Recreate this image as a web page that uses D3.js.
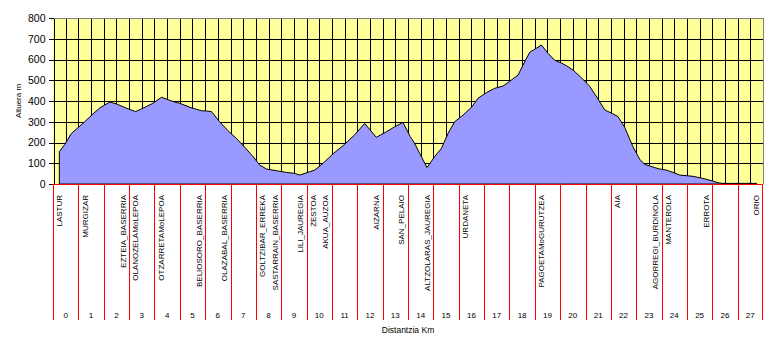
<!DOCTYPE html>
<html><head><meta charset="utf-8">
<script src="https://cdn.jsdelivr.net/npm/d3@7"></script>
<style>
html,body{margin:0;padding:0;background:#fff;}
svg{display:block;font-family:Arial,"Liberation Sans",sans-serif;}
</style></head>
<body><svg id="chart" width="773" height="348"></svg>
<script>
// ---- data ----
const profileKm = [0, 0.21, 0.48, 0.74, 1.0, 1.33, 1.59, 1.79, 1.99, 2.25, 2.65, 3.01, 3.43, 3.69, 4.03, 4.29, 4.55, 4.75, 5.14, 5.6, 5.8, 6.0, 6.32, 6.65, 6.98, 7.31, 7.64, 7.9, 8.17, 8.56, 8.95, 9.28, 9.48, 9.87, 10.07, 10.4, 10.79, 11.25, 11.64, 12.04, 12.5, 12.9, 13.23, 13.55, 13.84, 14.01, 14.21, 14.5, 14.8, 15.07, 15.33, 15.59, 15.92, 16.25, 16.51, 16.84, 17.17, 17.5, 17.76, 18.09, 18.35, 18.55, 18.81, 19.01, 19.27, 19.54, 19.8, 20.0, 20.26, 20.59, 20.92, 21.24, 21.51, 21.83, 22.03, 22.3, 22.62, 22.89, 23.08, 23.48, 23.68, 23.94, 24.2, 24.47, 24.99, 25.38, 25.78, 25.98, 26.17, 27.5];
const profileElev = [156, 190, 244, 272, 300, 338, 366, 381, 395, 386, 365, 349, 373, 389, 418, 406, 395, 389, 370, 353, 352, 349, 300, 257, 220, 177, 132, 92, 72, 64, 56, 51, 43, 59, 67, 100, 145, 191, 236, 292, 225, 252, 276, 297, 228, 196, 148, 79, 132, 172, 244, 300, 332, 369, 413, 440, 461, 472, 495, 525, 589, 635, 654, 670, 630, 596, 583, 570, 549, 512, 470, 410, 357, 338, 325, 272, 180, 119, 95, 79, 72, 67, 56, 43, 37, 27, 14, 6, 3, 3];
const placeNames = ["LASTUR", "MURGIZAR", "EZTEIA_BASERRIA", "OLANOZELAMoLEPOA", "OTZARRETAMoLEPOA", "BELIOSORO_BASERRIA", "OLAZABAL_BASERRIA", "GOLTZIBAR_ERREKA", "SASTARRAIN_BASERRIA", "LILI_JAUREGIA", "ZESTOA", "AKUA_AUZOA", "AIZARNA", "SAN_PELAIO", "ALTZOLARAS_JAUREGIA", "URDANETA", "PAGOETAMoGURUTZEA", "AIA", "AGORREGI_BURDINOLA", "MANTEROLA", "ERROTA", "ORIO"];
const placeKm = [0, 1, 2.5, 3, 4, 5.5, 6.5, 8, 8.5, 9.5, 10, 10.5, 12.5, 13.5, 14.5, 16, 19, 22, 23.5, 24, 25.5, 27.5];
const kmLabels = d3.range(0, 28).map(String);
const yTicks = [0, 100, 200, 300, 400, 500, 600, 700, 800];
const yTitle = "Altuera m";
const xTitle = "Distantzia Km";

// ---- layout ----
const L = 53, R = 763, T = 18, B = 184, tableBottom = 320;
const svg = d3.select("#chart");
const x = d3.scaleLinear().domain([-0.25, 27.75]).range([L, R]);
const y = d3.scaleLinear().domain([0, 800]).range([B, T]);
const xKm = d3.scaleBand().domain(kmLabels).range([L, R]);
const px = v => Math.round(v) + 0.5;

// background
svg.append("rect").attr("x", L).attr("y", T).attr("width", R - L).attr("height", B - T).attr("fill", "#FFFF99");

// vertical grid (every half km category)
const gridKm = d3.range(1, 56).map(i => -0.25 + i * 0.5);
svg.append("g").selectAll("line").data(gridKm).join("line")
  .attr("x1", d => px(x(d))).attr("x2", d => px(x(d)))
  .attr("y1", T).attr("y2", B)
  .attr("stroke", "#000").attr("shape-rendering", "crispEdges");
// horizontal grid
svg.append("g").selectAll("line").data(yTicks.filter(v => v > 0 && v < 800)).join("line")
  .attr("x1", L).attr("x2", R)
  .attr("y1", d => px(y(d))).attr("y2", d => px(y(d)))
  .attr("stroke", "#000").attr("shape-rendering", "crispEdges");

// area
const profile = profileKm.map((k, i) => ({k, e: profileElev[i]}));
const area = d3.area().x(d => x(d.k)).y0(y(0)).y1(d => y(d.e));
svg.append("path").datum(profile).attr("d", area)
  .attr("fill", "#9999FF").attr("stroke", "#000").attr("stroke-width", 1);

// plot border (top/right grey)
svg.append("path").attr("d", `M${L},${px(T)}H${px(R)}V${B}`)
  .attr("fill", "none").attr("stroke", "#808080").attr("shape-rendering", "crispEdges");

// y axis
const yAxis = d3.axisLeft(y).tickValues(yTicks).tickSize(5).tickSizeOuter(0).tickPadding(3);
const ga = svg.append("g").attr("transform", `translate(${px(L)},0)`).call(yAxis);
ga.select(".domain").attr("stroke", "#000").attr("shape-rendering", "crispEdges");
ga.selectAll(".tick line").attr("stroke", "#000").attr("shape-rendering", "crispEdges");
ga.selectAll(".tick text").attr("font-size", 10.5).attr("font-family", "Arial, 'Liberation Sans', sans-serif").attr("fill", "#000");

// y title
svg.append("text").attr("transform", `translate(21,101) rotate(-90)`)
  .attr("text-anchor", "middle").attr("font-size", 8).text(yTitle);

// table (red lines)
const tbl = svg.append("g").attr("stroke", "#FF0000").attr("shape-rendering", "crispEdges");
tbl.selectAll("line.v").data(kmLabels.concat(["end"])).join("line")
  .attr("x1", (d, i) => px(i < 28 ? xKm(d) : R) - (i === 28 ? 1 : 0))
  .attr("x2", (d, i) => px(i < 28 ? xKm(d) : R) - (i === 28 ? 1 : 0))
  .attr("y1", B).attr("y2", tableBottom);
tbl.append("line").attr("x1", L).attr("x2", R).attr("y1", px(B)).attr("y2", px(B));

// km labels
svg.append("g").selectAll("text").data(kmLabels).join("text")
  .attr("x", d => xKm(d) + xKm.bandwidth() / 2).attr("y", 318)
  .attr("text-anchor", "middle").attr("font-size", 8).text(d => d);

// place labels (vertical)
svg.append("g").selectAll("text").data(placeNames).join("text")
  .attr("transform", (d, i) => `translate(${x(placeKm[i])},195) rotate(-90)`)
  .attr("text-anchor", "end").attr("dy", "0.35em").attr("font-size", 8).text(d => d);

// x title
svg.append("text").attr("x", (L + R) / 2).attr("y", 333).attr("text-anchor", "middle")
  .attr("font-size", 8.5).text(xTitle);
</script></body></html>
